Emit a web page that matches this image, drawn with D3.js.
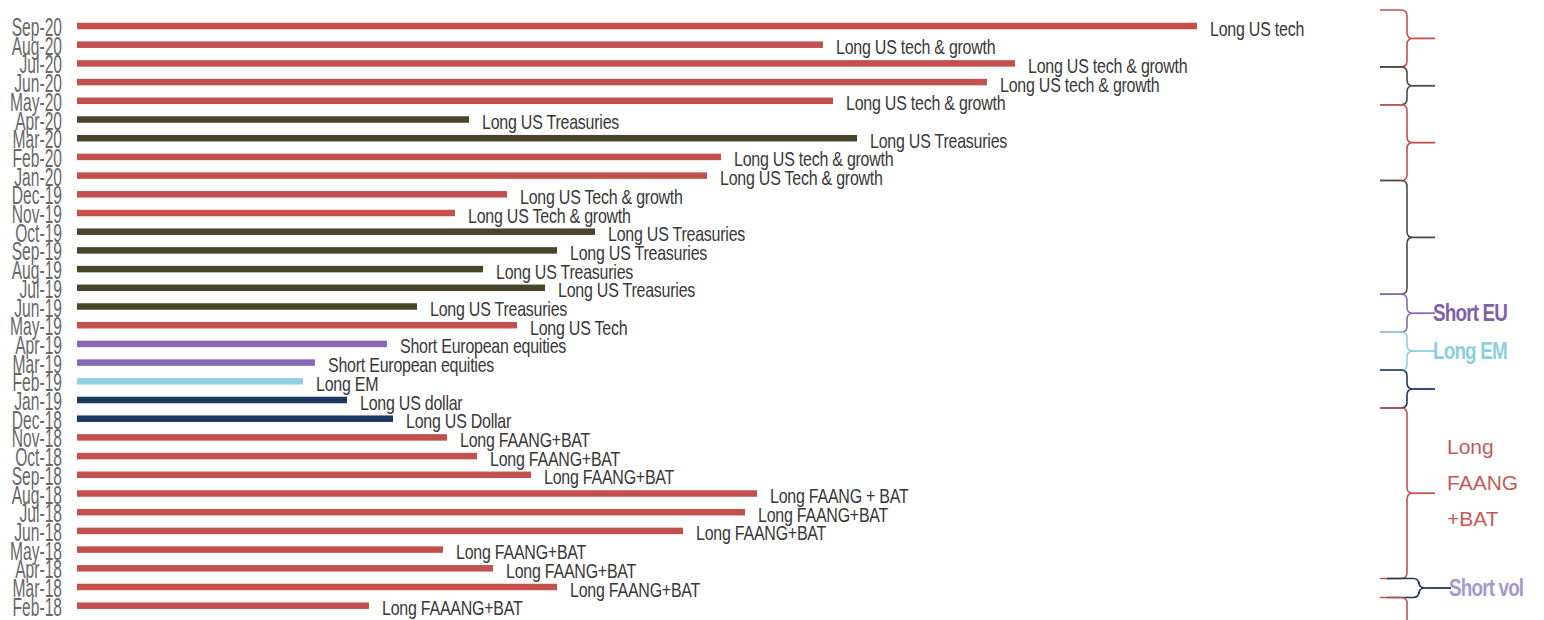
<!DOCTYPE html>
<html>
<head>
<meta charset="utf-8">
<script src="https://cdn.jsdelivr.net/npm/d3@7"></script>
<style>
  html, body { margin: 0; padding: 0; background: #fff; }
  svg { display: block; }
</style>
</head>
<body>
<svg id="chart" width="1544" height="620"></svg>
<script>
// Most crowded trade by survey month (newest first)
const months = ["Sep-20","Aug-20","Jul-20","Jun-20","May-20","Apr-20","Mar-20","Feb-20","Jan-20",
  "Dec-19","Nov-19","Oct-19","Sep-19","Aug-19","Jul-19","Jun-19","May-19","Apr-19","Mar-19","Feb-19","Jan-19",
  "Dec-18","Nov-18","Oct-18","Sep-18","Aug-18","Jul-18","Jun-18","May-18","Apr-18","Mar-18","Feb-18"];

// Share of respondents naming the trade (%)
const shares = [56.0, 37.3, 46.9, 45.5, 37.8, 19.6, 39.0, 32.2, 31.5,
  21.5, 18.9, 25.9, 24.0, 20.3, 23.4, 17.0, 22.0, 15.5, 11.9, 11.3, 13.5,
  15.8, 18.5, 20.0, 22.7, 34.0, 33.4, 30.3, 18.3, 20.8, 24.0, 14.6];

const trades = ["Long US tech","Long US tech & growth","Long US tech & growth","Long US tech & growth","Long US tech & growth",
  "Long US Treasuries","Long US Treasuries","Long US tech & growth","Long US Tech & growth",
  "Long US Tech & growth","Long US Tech & growth","Long US Treasuries","Long US Treasuries","Long US Treasuries",
  "Long US Treasuries","Long US Treasuries","Long US Tech","Short European  equities","Short European  equities",
  "Long EM","Long US dollar","Long US Dollar","Long FAANG+BAT","Long FAANG+BAT","Long FAANG+BAT",
  "Long FAANG + BAT","Long FAANG+BAT","Long FAANG+BAT","Long FAANG+BAT","Long FAANG+BAT","Long FAANG+BAT","Long FAAANG+BAT"];

const tradeType = ["tech","tech","tech","tech","tech","tsy","tsy","tech","tech",
  "tech","tech","tsy","tsy","tsy","tsy","tsy","tech","eu","eu","em","usd",
  "usd","tech","tech","tech","tech","tech","tech","tech","tech","tech","tech"];

// Bracketed runs of the same theme, listed by first and last month
const bracketMonths = months.concat(["Jan-18","Dec-17"]);
const groupFirst = ["Sep-20","Jun-20","Apr-20","Dec-19","Jun-19","Apr-19","Feb-19","Dec-18","Mar-18","Feb-18"];
const groupLast  = ["Jul-20","May-20","Jan-20","Jul-19","May-19","Mar-19","Jan-19","Apr-18","Mar-18","Dec-17"];
const groupType  = ["tech","tsyLine","tech","tsyLine","eu","em","usd","tech","usd","tech"];
const groupLabel = ["","","","",["Short EU"],["Long EM"],"",["Long","FAANG","+BAT"],["Short vol"],""];

const colors = {
  tech: "#c4504e",
  tsy: "#48452b",
  tsyLine: "#4a4a44",
  eu: "#8a68b8",
  em: "#8fd0e4",
  usd: "#1c3760"
};
const labelColors = { eu: "#7c62aa", em: "#8ccfe0", tech: "#c55b58", usd: "#a698cc" };

const svg = d3.select("#chart");
const sans = "'Liberation Sans',Arial,sans-serif";

const x = d3.scaleLinear().domain([0, 60]).range([77, 1277]);
const y = d3.scaleBand().domain(months).range([16.65, 16.65 + 18.7 * months.length]);
const yBracket = d3.scaleBand().domain(bracketMonths).range([10, 10 + 18.95 * bracketMonths.length]);
const yMid = m => y(m) + y.bandwidth() / 2;

const rows = months.map((m, i) => ({ month: m, share: shares[i], trade: trades[i], type: tradeType[i] }));

// Month labels on the left (tall, condensed lettering)
svg.append("g").attr("class", "y-axis")
  .selectAll("text").data(rows).join("text")
  .attr("transform", d => `translate(62,${yMid(d.month) + 10}) scale(0.6,1)`)
  .attr("text-anchor", "end")
  .attr("font-family", sans)
  .attr("font-size", 26)
  .attr("fill", "#686868")
  .text(d => d.month);

// Bars
const barH = 6.5;
svg.append("g").selectAll("rect").data(rows).join("rect")
  .attr("x", x(0))
  .attr("y", d => yMid(d.month) - barH / 2)
  .attr("width", d => x(d.share) - x(0))
  .attr("height", barH)
  .attr("fill", d => colors[d.type]);

// Trade name next to each bar
svg.append("g").selectAll("text").data(rows).join("text")
  .attr("transform", d => `translate(${x(d.share) + 13},${yMid(d.month) + 9.5}) scale(0.78,1)`)
  .attr("font-family", sans)
  .attr("font-size", 20.5)
  .attr("letter-spacing", -0.3)
  .attr("fill", "#383838")
  .text(d => d.trade);

// Curly brackets on the right
const groups = groupFirst.map((f, i) => ({
  y0: yBracket(f), y1: yBracket(groupLast[i]) + yBracket.bandwidth(),
  type: groupType[i], label: groupLabel[i]
}));

function bracePath(xv, y0, y1, r, arm) {
  const ym = (y0 + y1) / 2;
  return `M${xv - arm},${y0} L${xv - r},${y0} Q${xv},${y0} ${xv},${y0 + r}` +
    ` L${xv},${ym - r} Q${xv},${ym} ${xv + r},${ym} Q${xv},${ym} ${xv},${ym + r}` +
    ` L${xv},${y1 - r} Q${xv},${y1} ${xv - r},${y1} L${xv - arm},${y1}`;
}

const braceX = 1407;
// the short-volatility bracket sits a little further right, with a longer pointer
const shortVolExtra = 12;
const br = svg.append("g").attr("class", "brackets");
groups.forEach(g => {
  const ym = (g.y0 + g.y1) / 2;
  const isShortVol = g.label && g.label[0] === "Short vol";
  const bx = braceX + (isShortVol ? shortVolExtra : 0);
  const tip = isShortVol ? 32 : 28;
  br.append("path")
    .attr("d", bracePath(bx, g.y0, g.y1, 6, isShortVol ? 32 : 27))
    .attr("fill", "none")
    .attr("stroke", colors[g.type])
    .attr("stroke-width", 1.6);
  br.append("line")
    .attr("x1", bx + 6).attr("x2", bx + tip)
    .attr("y1", ym).attr("y2", ym)
    .attr("stroke", colors[g.type])
    .attr("stroke-width", 1.8);
  if (g.label) {
    const lines = g.label;
    if (lines.length > 1) {
      const t = br.append("text")
        .attr("font-family", sans)
        .attr("font-size", 21)
        .attr("fill", labelColors[g.type]);
      lines.forEach((ln, k) => {
        t.append("tspan")
          .attr("x", bx + 40)
          .attr("y", ym - 3 + (k - (lines.length - 1) / 2) * 36)
          .text(ln);
      });
    } else {
      br.append("text")
        .attr("transform", `translate(${bx + tip - 2},${ym + 8}) scale(0.82,1)`)
        .attr("font-family", sans)
        .attr("font-weight", "bold")
        .attr("font-size", 23)
        .attr("letter-spacing", -1)
        .attr("fill", labelColors[g.type])
        .text(lines[0]);
    }
  }
});
</script>
</body>
</html>
